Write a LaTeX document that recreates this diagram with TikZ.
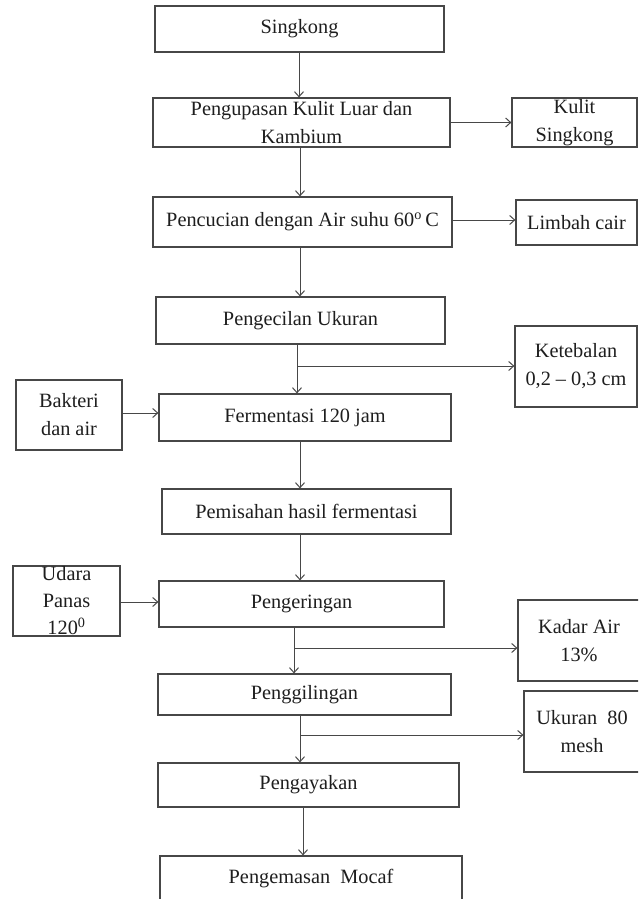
\documentclass[tikz,border=0pt]{standalone}
\usepackage{fontspec}
\setmainfont{Liberation Serif}
\usetikzlibrary{arrows.meta}
\definecolor{ln}{HTML}{474747}
\definecolor{tx}{HTML}{1E1E1E}
\tikzset{
  box/.style={draw=ln, line width=1.2pt, rectangle, inner sep=0pt, align=center,
    text=tx, font=\fontsize{20.3}{28}\selectfont},
  arr/.style={draw=ln, line width=1pt, -{Straight Barb[length=5pt,width=9pt]}}
}
\begin{document}
\begin{tikzpicture}[x=1pt,y=-1pt]
\useasboundingbox (0,0) rectangle (638,899);
\fill[white] (0,0) rectangle (638,899);
\clip (0,0) rectangle (638,899);
% main column
\node[box, minimum width=289, minimum height=46] (singkong) at (299.5,29) {Singkong};
\node[box, minimum width=297, minimum height=49] (kupas) at (301.5,122.5) {Pengupasan Kulit Luar dan\\Kambium};
\node[box, minimum width=299, minimum height=50] (cuci) at (302.5,222) {Pencucian dengan Air suhu 60\textsuperscript{o}\,C};
\node[box, minimum width=289, minimum height=47] (kecil) at (300.5,320.5) {Pengecilan Ukuran};
\node[box, minimum width=292, minimum height=47] (ferm) at (305,417.5) {Fermentasi 120 jam};
\node[box, minimum width=289, minimum height=45] (pisah) at (306.5,511.5) {Pemisahan hasil fermentasi};
\node[box, minimum width=285, minimum height=46] (kering) at (301.5,604) {Pengeringan};
\node[box, minimum width=293, minimum height=41] (giling) at (304.5,694.5) {Penggilingan};
\node[box, minimum width=301, minimum height=44] (ayak) at (308.5,785) {Pengayakan};
\node[box, minimum width=302, minimum height=46] (kemas) at (311,879) {Pengemasan\ \ Mocaf};
% side boxes right
\node[box, minimum width=125, minimum height=49] (kulit) at (574.5,122.5) {Kulit\\Singkong};
\node[box, minimum width=121, minimum height=45] (limbah) at (576.5,222.5) {Limbah cair};
\node[box, minimum width=122, minimum height=81] (tebal) at (576,366.5) {Ketebalan\\0,2 -- 0,3 cm};
\node[box, minimum width=122, minimum height=81] (kadar) at (579,640.5) {Kadar Air\\13\%};
\node[box, minimum width=116, minimum height=81] (ukuran) at (582,731.5) {Ukuran\ \ 80\\mesh};
% side boxes left
\node[box, minimum width=106, minimum height=70] (bakteri) at (69,415) {Bakteri\\dan air};
\node[box, minimum width=107, minimum height=70, font=\fontsize{20.3}{27}\selectfont] (udara) at (66.5,601) {Udara\\Panas\\120\textsuperscript{0}};
% vertical arrows
\draw[arr] (singkong.south -| 299,0) -- (kupas.north -| 299,0);
\draw[arr] (kupas.south -| 300,0) -- (cuci.north -| 300,0);
\draw[arr] (cuci.south -| 300,0) -- (kecil.north -| 300,0);
\draw[arr] (kecil.south -| 297,0) -- (ferm.north -| 297,0);
\draw[arr] (ferm.south -| 300,0) -- (pisah.north -| 300,0);
\draw[arr] (pisah.south -| 300,0) -- (kering.north -| 300,0);
\draw[arr] (kering.south -| 294,0) -- (giling.north -| 294,0);
\draw[arr] (giling.south -| 300,0) -- (ayak.north -| 300,0);
\draw[arr] (ayak.south -| 303,0) -- (kemas.north -| 303,0);
% branches to right
\coordinate (b1) at (297,366);
\coordinate (b2) at (294,648);
\coordinate (b3) at (300,735);
\draw[arr] (b1) -- (b1 -| tebal.west);
\draw[arr] (b2) -- (b2 -| kadar.west);
\draw[arr] (b3) -- (b3 -| ukuran.west);
% side arrows
\draw[arr] (kupas.east) -- (kupas.east -| kulit.west);
\draw[arr] (cuci.east |- 0,220) -- (limbah.west |- 0,220);
\draw[arr] (bakteri.east |- 0,413) -- (ferm.west |- 0,413);
\draw[arr] (udara.east |- 0,602) -- (kering.west |- 0,602);
\end{tikzpicture}
\end{document}
